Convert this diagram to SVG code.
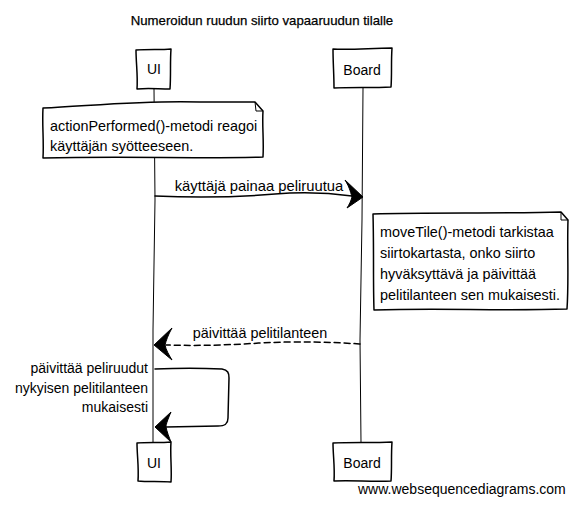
<svg xmlns="http://www.w3.org/2000/svg" width="575" height="506" viewBox="0 0 575 506">
<style>
text{font-family:"Liberation Sans",Arial,sans-serif;font-size:14px;fill:#000}
.t{font-size:13.2px;stroke:#000;stroke-width:0.25}
.n{font-size:14.4px}
.box{fill:#fff;stroke:#000;stroke-width:1.5;stroke-linejoin:round}
.ll{fill:none;stroke:#000;stroke-width:1}
.msg{fill:none;stroke:#000;stroke-width:1.5;stroke-linecap:round}
.dash{stroke-dasharray:6,4}
.ah{fill:#000;stroke:#000;stroke-width:1;stroke-linejoin:round}
</style>
<rect width="575" height="506" fill="#fff"/>
<text class="t" x="262" y="25" text-anchor="middle">Numeroidun ruudun siirto vapaaruudun tilalle</text>
<g id="lifelines">
<path class="ll" d="M154,89 L155,200 L153,330 L153,442"/>
<path class="ll" d="M363,88 L362,220 L360,340 L361,443"/>
</g>
<g id="ui-top">
<path class="box" d="M136,50 C150,49 160,50 171,49 C170,62 171,75 170,89 C158,89 148,88 137,89 C138,76 136,63 136,50 Z"/>
<text x="154" y="74" text-anchor="middle">UI</text>
</g>
<g id="board-top">
<path class="box" d="M333,49 C352,50 372,48 392,48 C391,62 392,75 391,87 C372,88 352,87 334,88 C334,75 333,62 333,49 Z"/>
<text x="362" y="75" text-anchor="middle">Board</text>
</g>
<g id="note1">
<path class="box" d="M43,108 C100,105 150,100 200,102 L255,102 L263,111 C262,125 264,140 263,157 C200,159 130,156 43,158 C44,140 42,125 43,108 Z"/>
<path class="ll" d="M255,102 L256,111 L263,111"/>
<text class="n" x="50" y="131">actionPerformed()-metodi reagoi</text>
<text class="n" x="50" y="151">käyttäjän syötteeseen.</text>
</g>
<g id="note2">
<path class="box" d="M373,214 C430,212 500,214 561,212 L568,220 C567,250 569,280 567,309 C500,311 440,308 374,310 C373,280 374,250 373,214 Z"/>
<path class="ll" d="M561,212 L561,220 L568,220"/>
<text class="n" x="380" y="237">moveTile()-metodi tarkistaa</text>
<text class="n" x="380" y="258">siirtokartasta, onko siirto</text>
<text class="n" x="380" y="279">hyväksyttävä ja päivittää</text>
<text class="n" x="380" y="300">pelitilanteen sen mukaisesti.</text>
</g>
<g id="ui-bottom">
<path class="box" d="M137,443 C148,442 160,443 171,442 C170,455 172,469 171,482 C160,481 148,482 138,481 C139,468 137,455 137,443 Z"/>
<text x="154" y="468" text-anchor="middle">UI</text>
</g>
<g id="board-bottom">
<path class="box" d="M333,443 C352,442 372,443 392,442 C391,455 392,469 391,481 C372,482 352,480 334,481 C335,468 333,455 333,443 Z"/>
<text x="362" y="468" text-anchor="middle">Board</text>
</g>
<g id="connectors">
<path class="msg" d="M155,196 C200,198 240,197 275,194 C300,192 330,193 352,196"/>
<path class="ah" d="M363,197 L345,180 C350,188 351,194 352,197 C351,201 349,205 347,208 Z"/>
<text class="n" x="259" y="191" text-anchor="middle" style="font-size:14.8px">käyttäjä painaa peliruutua</text>
<path class="msg dash" d="M360,344 C330,342 300,341 260,343 C230,345 200,346 166,345"/>
<path class="ah" d="M154,345 L172,328 C168,335 166,341 165,345 C166,350 169,355 172,360 Z"/>
<text class="n" x="260" y="338" text-anchor="middle">päivittää pelitilanteen</text>
<path class="msg" d="M155,369 C180,368 200,368 222,369 C228,370 229,373 229,378 L228,418 C228,424 225,426 218,426 L166,427"/>
<path class="ah" d="M155,427 L171,412 C168,419 166,424 166,427 C167,432 169,437 171,442 Z"/>
<text x="148" y="373" text-anchor="end">päivittää peliruudut</text>
<text x="148" y="393" text-anchor="end">nykyisen pelitilanteen</text>
<text x="148" y="412" text-anchor="end">mukaisesti</text>
</g>
<text x="358" y="494">www.websequencediagrams.com</text>
</svg>
